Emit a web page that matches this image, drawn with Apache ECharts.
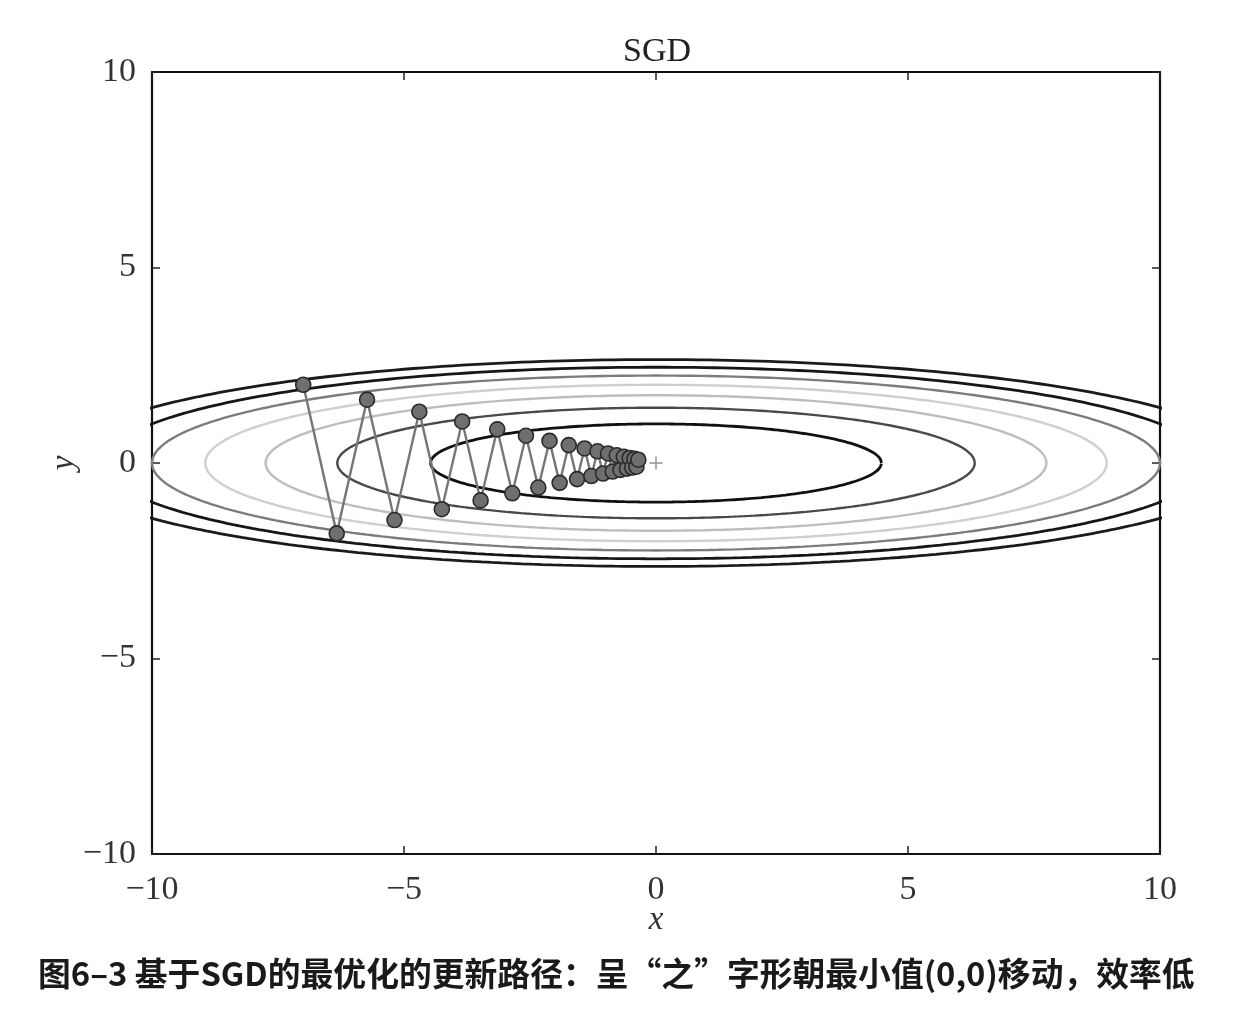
<!DOCTYPE html>
<html>
<head>
<meta charset="utf-8">
<script src="https://cdn.jsdelivr.net/npm/echarts@6/dist/echarts.min.js"></script>
<style>
html,body{margin:0;padding:0;background:#fff;}
#c{width:1242px;height:1020px;}
</style>
</head>
<body>
<div id="c"></div>
<script>
// SGD path points
const pathX = [-7.000, -6.335, -5.733, -5.189, -4.696, -4.250, -3.846, -3.480, -3.150, -2.851,
  -2.580, -2.335, -2.113, -1.912, -1.731, -1.566, -1.417, -1.283, -1.161, -1.051,
  -0.951, -0.860, -0.779, -0.705, -0.638, -0.577, -0.522, -0.473, -0.428, -0.387, -0.350];
const pathY = [2.000, -1.800, 1.620, -1.458, 1.312, -1.181, 1.063, -0.957, 0.861, -0.775,
  0.697, -0.628, 0.565, -0.508, 0.458, -0.412, 0.371, -0.334, 0.300, -0.270,
  0.243, -0.219, 0.197, -0.177, 0.160, -0.144, 0.129, -0.116, 0.105, -0.094, 0.085];
// contour levels of f(x,y) = x^2/20 + y^2 and their line colours
const contourLevels = [1, 2, 3, 4, 5, 6, 7];
const contourColors = ['#111111', '#4a4a4a', '#bdbdbd', '#cfcfcf', '#7c7c7c', '#161616', '#1a1a1a'];
const xTicks = [-10, -5, 0, 5, 10];
const yTicks = [-10, -5, 0, 5, 10];
const minimumPoint = [0, 0];
const titleText = 'SGD';
const captionText = '图6–3 基于SGD的最优化的更新路径：呈“之”字形朝最小值(0,0)移动，效率低';

function ellipse(level) {
  const a = Math.sqrt(20 * level), b = Math.sqrt(level);
  const pts = [];
  for (let i = 0; i <= 360; i++) {
    const t = i * Math.PI / 180;
    pts.push([a * Math.cos(t), b * Math.sin(t)]);
  }
  return pts;
}
const fmt = v => (v < 0 ? '\u2212' + Math.abs(v) : String(v));
const serif = 'Liberation Serif';

const axisCommon = {
  type: 'value', min: xTicks[0], max: xTicks[xTicks.length - 1], interval: 5,
  splitLine: { show: false },
  axisLine: { show: true, onZero: false, lineStyle: { color: '#111', width: 2.2 } },
  axisTick: { show: true, inside: true, length: 8, lineStyle: { color: '#222', width: 1.5 } }
};

const series = contourLevels.map((lv, i) => ({
  type: 'line', xAxisIndex: 0, yAxisIndex: 0, data: ellipse(lv), showSymbol: false, symbol: 'none',
  smooth: false, clip: true, silent: true, z: 2,
  lineStyle: { color: contourColors[i], width: (i === 0 || i >= 5) ? 2.8 : 2.4 }
}));
series.push({
  type: 'line', xAxisIndex: 0, yAxisIndex: 0, data: pathX.map((x, i) => [x, pathY[i]]),
  symbol: 'circle', symbolSize: 15, showSymbol: true, z: 5,
  lineStyle: { color: '#767676', width: 2.4 },
  itemStyle: { color: '#6f6f6f', borderColor: '#2a2a2a', borderWidth: 1.6 }
});
series.push({
  type: 'scatter', xAxisIndex: 0, yAxisIndex: 0, data: [minimumPoint], z: 4,
  symbol: 'path://M5,0 L5,10 M0,5 L10,5', symbolSize: 13,
  itemStyle: { color: 'rgba(0,0,0,0)', borderColor: '#777', borderWidth: 1.5 }
});

const chart = echarts.init(document.getElementById('c'), null, { renderer: 'canvas' });
chart.setOption({
  backgroundColor: '#fff',
  animation: false,
  grid: { left: 152, right: 82, top: 72, bottom: 166 },
  xAxis: [
    Object.assign({}, axisCommon, {
      position: 'bottom', name: 'x', nameLocation: 'middle', nameGap: 50, nameMoveOverlap: false,
      nameTextStyle: { fontFamily: serif, fontStyle: 'italic', fontSize: 33, color: '#333' },
      axisLabel: { formatter: fmt, fontFamily: serif, fontSize: 34, color: '#333', margin: 19 }
    }),
    Object.assign({}, axisCommon, { position: 'top', axisLabel: { show: false } })
  ],
  yAxis: [
    Object.assign({}, axisCommon, {
      min: yTicks[0], max: yTicks[yTicks.length - 1],
      position: 'left', name: 'y', nameLocation: 'middle', nameGap: 71, nameRotate: 90, nameMoveOverlap: false,
      nameTextStyle: { fontFamily: serif, fontStyle: 'italic', fontSize: 33, color: '#333' },
      axisLabel: { formatter: fmt, fontFamily: serif, fontSize: 34, color: '#333', margin: 16 }
    }),
    Object.assign({}, axisCommon, {
      min: yTicks[0], max: yTicks[yTicks.length - 1], position: 'right', axisLabel: { show: false }
    })
  ],
  series: series,
  graphic: [{
    type: 'text', x: 657, y: 52,
    style: { text: titleText, font: '34px "Liberation Serif"', fill: '#222', textAlign: 'center', textVerticalAlign: 'middle' }
  }, {
    type: 'text', left: 38, top: 957,
    style: { text: captionText, font: 'bold 32.8px "Noto Sans CJK SC"', fill: '#1a1a1a' }
  }]
});
</script>
</body>
</html>
